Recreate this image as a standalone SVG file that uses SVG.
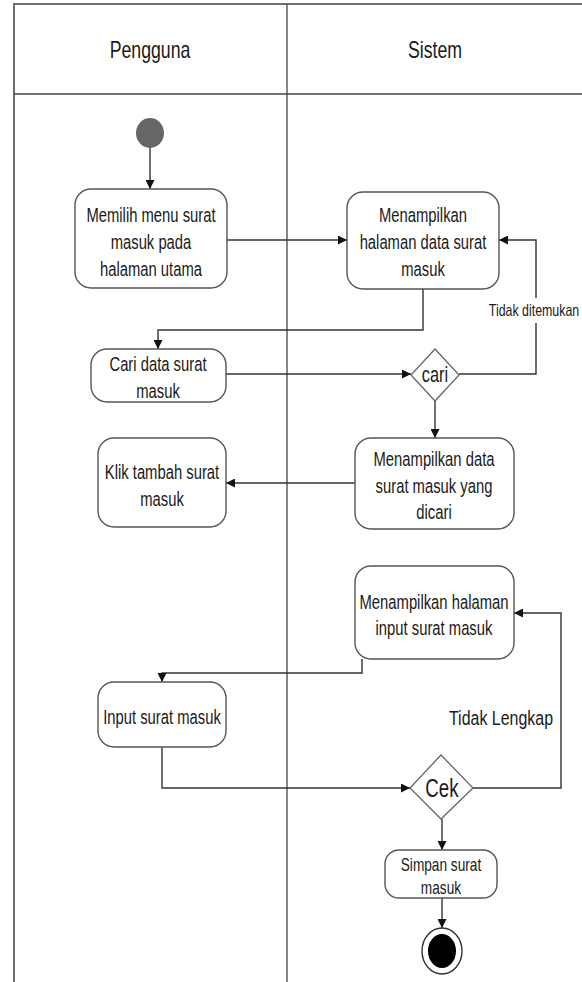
<svg xmlns="http://www.w3.org/2000/svg" width="582" height="982" viewBox="0 0 582 982">
  <style>
    .lane { fill: none; stroke: #6e6e6e; stroke-width: 2; }
    .div { stroke: #444; stroke-width: 1.3; fill: none; }
    .act { fill: #fff; stroke: #555; stroke-width: 1.4; }
    .dec { fill: #fff; stroke: #666; stroke-width: 1.3; }
    .edge { fill: none; stroke: #333; stroke-width: 1.4; }
    text { font-family: "Liberation Sans", Arial, sans-serif; fill: #1a1a1a; text-anchor: middle; }
    .t { font-size: 19.5px; }
    .h { font-size: 23px; }
    .s { font-size: 18px; }
    .lbl { font-size: 16.5px; }
  </style>
  <defs>
    <marker id="arrow" viewBox="0 0 10 10" refX="10" refY="5" markerWidth="9" markerHeight="9" markerUnits="userSpaceOnUse" orient="auto">
      <path d="M0,0 L10,5 L0,10 z" fill="#111"/>
    </marker>
  </defs>

  <!-- swimlanes; text groups are squeezed horizontally around their centre for a condensed face -->
  <g id="lanes">
    <rect class="lane" x="14" y="4" width="590" height="1000"/>
    <line class="div" x1="287" y1="4" x2="287" y2="982"/>
    <line class="div" x1="14" y1="94" x2="582" y2="94"/>
    <g transform="matrix(0.77 0 0 1 34.5 0)"><text class="h" x="150" y="58">Pengguna</text></g>
    <g transform="matrix(0.77 0 0 1 100.05 0)"><text class="h" x="435" y="58">Sistem</text></g>
  </g>

  <!-- connectors -->
  <g id="connectors">
    <path class="edge" d="M150,147 V189" marker-end="url(#arrow)"/>
    <path class="edge" d="M227,240 H347" marker-end="url(#arrow)"/>
    <path class="edge" d="M423,289 V330 H158 V349" marker-end="url(#arrow)"/>
    <path class="edge" d="M226,374 H411" marker-end="url(#arrow)"/>
    <path class="edge" d="M459,374 H536 V323 M536,298 V240 H499" marker-end="url(#arrow)"/>
    <path class="edge" d="M435,401 V438" marker-end="url(#arrow)"/>
    <path class="edge" d="M355,483 H226" marker-end="url(#arrow)"/>
    <path class="edge" d="M362,659 V673 H162 V682" marker-end="url(#arrow)"/>
    <path class="edge" d="M162,747 V788 H410" marker-end="url(#arrow)"/>
    <path class="edge" d="M473,788 H561 V613 H514" marker-end="url(#arrow)"/>
    <path class="edge" d="M442,819 V850" marker-end="url(#arrow)"/>
    <path class="edge" d="M442,898 V928" marker-end="url(#arrow)"/>
    <g transform="matrix(0.75 0 0 1 133.5 0)"><text class="lbl" x="534" y="316">Tidak ditemukan</text></g>
    <g transform="matrix(0.76 0 0 1 120.24 0)"><text style="font-size:21px" x="501" y="725">Tidak Lengkap</text></g>
  </g>

  <g id="start">
    <ellipse cx="150" cy="133" rx="14" ry="15" fill="#666"/>
  </g>

  <g id="pilih-menu">
    <rect class="act" x="75" y="189" width="152" height="99" rx="16"/>
    <g transform="matrix(0.76 0 0 1 36.24 0)">
      <text class="t" x="151" y="222">Memilih menu surat</text>
      <text class="t" x="151" y="249">masuk pada</text>
      <text class="t" x="151" y="276">halaman utama</text>
    </g>
  </g>

  <g id="tampil-halaman">
    <rect class="act" x="347" y="192" width="152" height="97" rx="16"/>
    <g transform="matrix(0.76 0 0 1 101.52 0)">
      <text class="t" x="423" y="222">Menampilkan</text>
      <text class="t" x="423" y="249">halaman data surat</text>
      <text class="t" x="423" y="276">masuk</text>
    </g>
  </g>

  <g id="cari-data">
    <rect class="act" x="91" y="349" width="135" height="53" rx="16"/>
    <g transform="matrix(0.76 0 0 1 37.92 0)">
      <text class="t" x="158" y="371">Cari data surat</text>
      <text class="t" x="158" y="398">masuk</text>
    </g>
  </g>

  <g id="cari">
    <polygon class="dec" points="435,349 459,375 435,401 411,375"/>
    <g transform="matrix(0.76 0 0 1 104.4 0)"><text style="font-size:21.5px" x="435" y="382">cari</text></g>
  </g>

  <g id="tampil-data">
    <rect class="act" x="355" y="438" width="159" height="91" rx="16"/>
    <g transform="matrix(0.76 0 0 1 104.16 0)">
      <text class="t" x="434" y="466">Menampilkan data</text>
      <text class="t" x="434" y="493">surat masuk yang</text>
      <text class="t" x="434" y="519">dicari</text>
    </g>
  </g>

  <g id="klik-tambah">
    <rect class="act" x="98" y="438" width="128" height="89" rx="16"/>
    <g transform="matrix(0.76 0 0 1 38.88 0)">
      <text class="t" x="162" y="479">Klik tambah surat</text>
      <text class="t" x="162" y="506">masuk</text>
    </g>
  </g>

  <g id="tampil-input">
    <rect class="act" x="355" y="566" width="159" height="93" rx="16"/>
    <g transform="matrix(0.76 0 0 1 104.16 0)">
      <text class="t" x="434" y="609">Menampilkan halaman</text>
      <text class="t" x="434" y="635">input surat masuk</text>
    </g>
  </g>

  <g id="input">
    <rect class="act" x="98" y="682" width="128" height="65" rx="16"/>
    <g transform="matrix(0.76 0 0 1 38.88 0)">
      <text class="t" x="162" y="724">Input surat masuk</text>
    </g>
  </g>

  <g id="cek">
    <polygon class="dec" points="441,755 473,788 441,819 410,788"/>
    <g transform="matrix(0.75 0 0 1 110.5 0)"><text x="442" y="797" style="font-size:25px">Cek</text></g>
  </g>

  <g id="simpan">
    <rect class="act" x="385" y="850" width="112" height="48" rx="14"/>
    <g transform="matrix(0.76 0 0 1 105.84 0)">
      <text class="s" x="441" y="871">Simpan surat</text>
      <text class="s" x="441" y="894">masuk</text>
    </g>
  </g>

  <g id="end">
    <ellipse cx="442" cy="951" rx="20" ry="23" fill="#fff" stroke="#333" stroke-width="1.4"/>
    <ellipse cx="442" cy="951" rx="14" ry="17" fill="#000"/>
  </g>
</svg>
